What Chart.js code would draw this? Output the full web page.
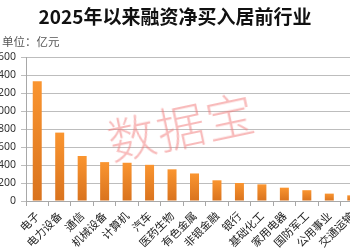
<!DOCTYPE html>
<html>
<head>
<meta charset="utf-8">
<script src="https://cdn.jsdelivr.net/npm/chart.js@4.4.1/dist/chart.umd.min.js"></script>
<style>
  html, body { margin: 0; padding: 0; background: #fff; }
  body { width: 350px; height: 250px; position: relative; overflow: hidden; font-family: "Noto Sans CJK SC", "Noto Sans", sans-serif; }
  #title { position: absolute; left: 0; top: 3px; width: 350px; text-align: center; font-size: 19px; font-weight: bold; color: #111; line-height: 26px; white-space: nowrap; }
  #unit { position: absolute; left: 2px; top: 33px; font-size: 11.5px; color: #555; line-height: 16px; }
  #wrap { position: absolute; left: -20px; top: 0; width: 400px; height: 250px; }
  #wm { position: absolute; left: 181px; top: 124px; font-size: 48px; font-weight: 300; color: rgba(242, 120, 120, 0.5); transform: translate(-50%, -50%) rotate(-12deg); letter-spacing: 2px; pointer-events: none; line-height: 56px; white-space: nowrap; }
</style>
</head>
<body>
<div id="wrap"><canvas id="c" width="400" height="250"></canvas></div>
<div id="title">2025年以来融资净买入居前行业</div>
<div id="unit">单位：亿元</div>
<div id="wm">数据宝</div>
<script>
const categories = ["电子", "电力设备", "通信", "机械设备", "计算机", "汽车", "医药生物", "有色金属", "非银金融", "银行", "基础化工", "家用电器", "国防军工", "公用事业", "交通运输"];
const netBuy = [1330, 760, 500, 432, 425, 402, 352, 306, 230, 200, 185, 148, 120, 82, 63];
const yTicks = [0, 200, 400, 600, 800, 1000, 1200, 1400, 1600];

function barColor(ctx) {
  const chart = ctx.chart;
  const area = chart.chartArea;
  if (!area || ctx.type !== 'data') return '#F08A24';
  const ys = chart.scales.y;
  const top = ys.getPixelForValue(ctx.raw);
  const bottom = ys.getPixelForValue(0);
  if (!isFinite(top) || !isFinite(bottom) || bottom - top < 1) return '#F08A24';
  const g = chart.ctx.createLinearGradient(0, top, 0, bottom);
  g.addColorStop(0, '#FA9530');
  g.addColorStop(1, '#D9731E');
  return g;
}

new Chart(document.getElementById('c'), {
  type: 'bar',
  data: {
    labels: categories,
    datasets: [{
      data: netBuy,
      backgroundColor: barColor,
      borderWidth: 0,
      categoryPercentage: 1,
      barPercentage: 0.4
    }]
  },
  options: {
    responsive: false,
    animation: false,
    devicePixelRatio: 1,
    layout: { padding: { top: 57, right: 17, bottom: 0, left: 0 } },
    plugins: { legend: { display: false }, tooltip: { enabled: false }, title: { display: false } },
    scales: {
      x: {
        offset: true,
        grid: { display: true, offset: true, drawOnChartArea: false, drawTicks: true, tickLength: 5, color: '#a8a8a8' },
        border: { display: true, color: '#a8a8a8' },
        ticks: {
          autoSkip: false, maxRotation: 45, minRotation: 45, padding: 3,
          color: '#222', font: { family: '"Noto Sans CJK SC", sans-serif', size: 11 }
        },
        afterFit(scale) { scale.height = 49; }
      },
      y: {
        min: 0, max: 1600,
        afterBuildTicks(scale) { scale.ticks = yTicks.map(v => ({ value: v })); },
        grid: { color: '#bdbdbd', tickLength: 5, drawTicks: true },
        border: { display: true, color: '#a8a8a8' },
        ticks: { padding: 5, color: '#333', font: { family: '"Noto Sans", sans-serif', size: 10.5 } },
        afterFit(scale) { scale.width = 46; }
      }
    }
  }
});
</script>
</body>
</html>
